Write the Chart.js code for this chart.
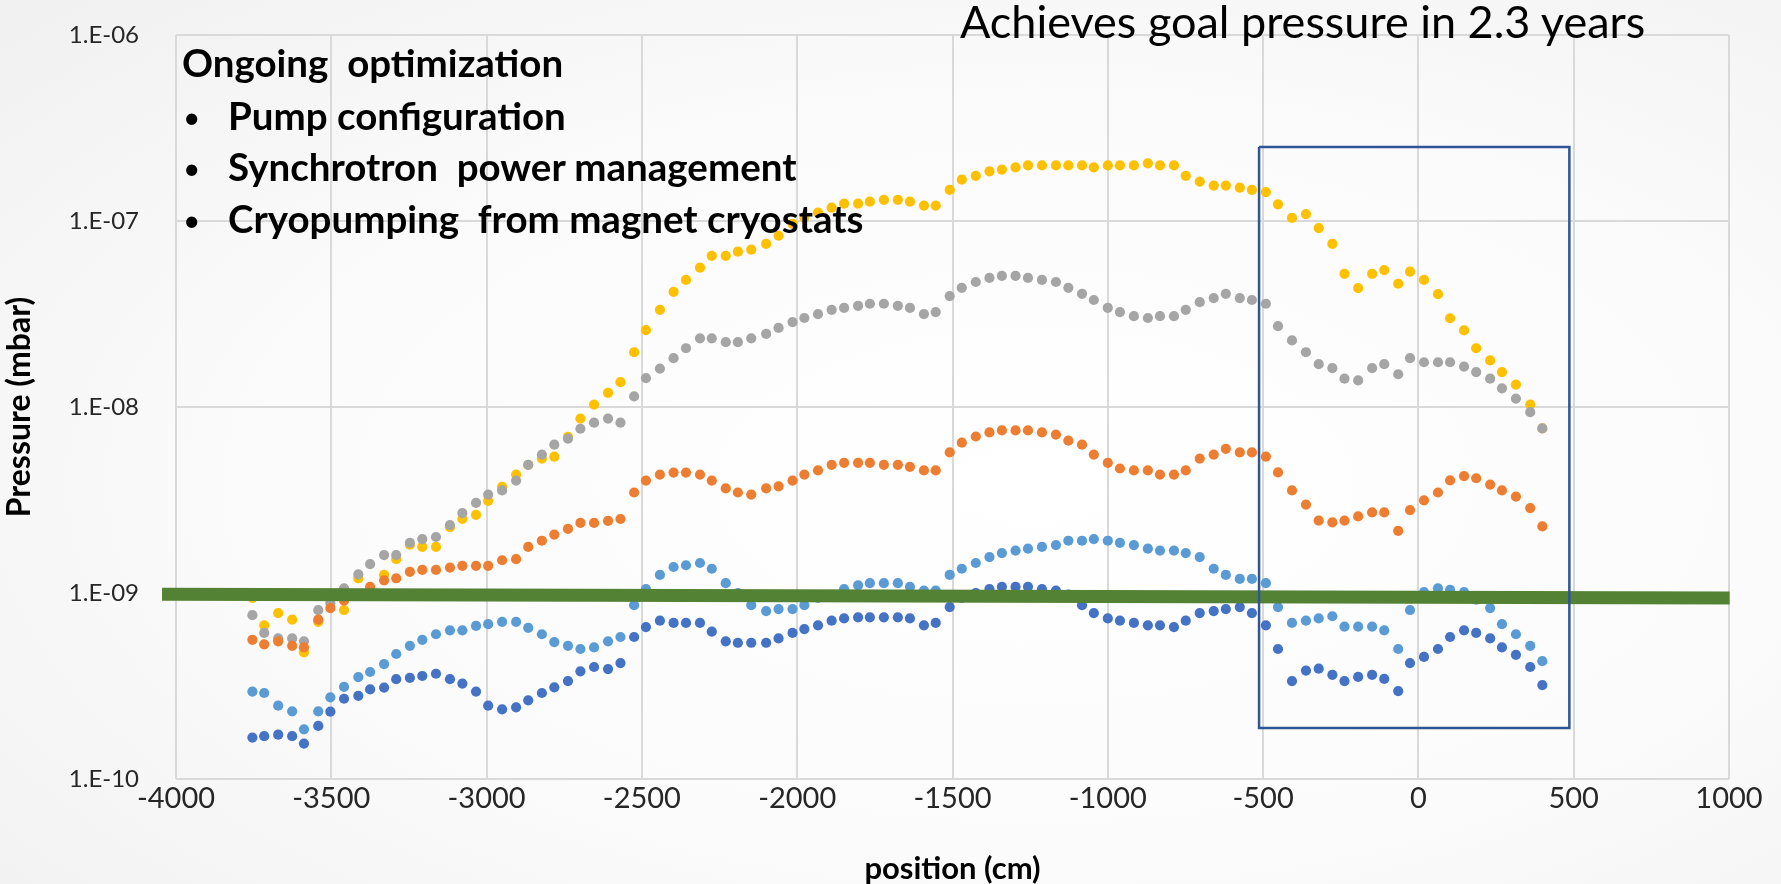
<!DOCTYPE html>
<html>
<head>
<meta charset="utf-8">
<title>Pressure profile</title>
<script src="https://cdn.jsdelivr.net/npm/chart.js@4.4.1/dist/chart.umd.min.js"></script>
<style>
  html, body { margin: 0; padding: 0; }
  body {
    width: 1781px; height: 884px; overflow: hidden;
    background: radial-gradient(ellipse 95% 95% at 58% 55%, #ffffff 0%, #fbfbfb 45%, #ececec 100%);
    font-family: Lato, "Noto Sans", sans-serif;
  }
  #wrap { position: relative; width: 1781px; height: 884px; }
  #c { position: absolute; left: 0; top: 0; }
  .note { position: absolute; white-space: pre; color: #000; line-height: 1.2; }
  .bold { font-weight: 700; font-size: 38.5px; }
  .dot { font-weight: 400; font-size: 30px; }
  .goal { font-weight: 400; font-size: 45px; }
</style>
</head>
<body>
<div id="wrap">
  <canvas id="c" width="1781" height="884"></canvas>
  <div class="note goal" data-x="960" data-base="38">Achieves goal pressure in 2.3 years</div>
  <div class="note bold" data-x="182" data-base="77">Ongoing  optimization</div>
  <div class="note dot" data-x="183" data-base="128">•</div>
  <div class="note bold" data-x="228" data-base="130">Pump configuration</div>
  <div class="note dot" data-x="183" data-base="179">•</div>
  <div class="note bold" data-x="228" data-base="181">Synchrotron  power management</div>
  <div class="note dot" data-x="183" data-base="231">•</div>
  <div class="note bold" data-x="228" data-base="233">Cryopumping  from magnet cryostats</div>
</div>
<script>
// Position along the beam line (cm)
const POSITION_CM = [
  -3754, -3716, -3671, -3626, -3588, -3542, -3503, -3459, -3413, -3375,
  -3330, -3291, -3247, -3207, -3163, -3118, -3078, -3034, -2995, -2950,
  -2905, -2866, -2822, -2782, -2738, -2698, -2654, -2609, -2569, -2525,
  -2487, -2442, -2398, -2358, -2313, -2275, -2230, -2191, -2148, -2100,
  -2060, -2015, -1977, -1933, -1889, -1849, -1804, -1766, -1721, -1676,
  -1637, -1592, -1554, -1509, -1470, -1425, -1381, -1341, -1297, -1257,
  -1212, -1167, -1127, -1083, -1045, -1000, -961, -916, -871, -832,
  -787, -749, -704, -659, -620, -575, -536, -491, -452, -407,
  -362, -321, -277, -238, -194, -149, -110, -65, -27, 18,
  63, 102, 147, 186, 231, 269, 314, 360, 399
];

// Pressure profiles, in units of 1e-9 mbar
const P_YELLOW = [
  0.94, 0.67, 0.78, 0.72, 0.48, 0.70, 0.92, 0.81, 1.20, 1.00,
  1.25, 1.52, 1.82, 1.77, 1.77, 2.26, 2.50, 2.63, 3.13, 3.72,
  4.33, 4.89, 5.28, 5.41, 6.9, 8.67, 10.3, 11.9, 13.6, 19.7,
  25.9, 33.3, 41.6, 48.2, 56.1, 65.0, 65.0, 68.4, 70.1, 75.3,
  83.3, 96.6, 104, 111, 118, 124, 124, 127, 130, 130,
  127, 121, 121, 147, 167, 175, 185, 189, 194, 199,
  199, 199, 199, 199, 194, 199, 199, 199, 204, 199,
  199, 175, 163, 155, 155, 151, 147, 143, 123, 104,
  109, 91.6, 75.3, 52.0, 43.6, 52.0, 54.5, 46.0, 53.4, 48.2,
  40.4, 30.0, 25.8, 20.7, 17.8, 15.4, 13.2, 10.3, 7.67
];
const P_GRAY = [
  0.76, 0.61, 0.57, 0.57, 0.55, 0.81, 0.88, 1.06, 1.26, 1.43,
  1.60, 1.60, 1.86, 1.95, 2.00, 2.32, 2.69, 3.05, 3.38, 3.56,
  4.02, 4.89, 5.55, 6.27, 6.76, 7.64, 8.24, 8.67, 8.24, 11.4,
  14.3, 16.1, 18.3, 20.7, 23.4, 23.4, 22.3, 22.3, 23.4, 24.7,
  26.6, 28.6, 30.1, 31.6, 33.3, 34.1, 35.0, 35.9, 35.9, 35.0,
  34.1, 31.6, 32.4, 39.5, 43.7, 47.0, 49.4, 50.7, 50.7, 49.4,
  48.2, 47.0, 43.7, 40.6, 37.6, 34.1, 32.4, 30.8, 30.1, 30.8,
  30.8, 33.3, 36.6, 38.5, 40.6, 38.5, 37.6, 35.9, 27.2, 22.8,
  19.7, 17.0, 16.2, 14.2, 13.9, 16.2, 17.0, 15.0, 18.3, 17.4,
  17.4, 17.4, 16.5, 15.4, 14.2, 12.6, 11.1, 9.38, 7.67
];
const P_ORANGE = [
  0.56, 0.53, 0.55, 0.52, 0.51, 0.72, 0.83, 0.91, 0.97, 1.08,
  1.17, 1.20, 1.30, 1.33, 1.33, 1.37, 1.40, 1.40, 1.40, 1.50,
  1.52, 1.77, 1.91, 2.06, 2.21, 2.38, 2.38, 2.44, 2.50, 3.47,
  4.02, 4.33, 4.44, 4.44, 4.33, 4.02, 3.65, 3.47, 3.38, 3.65,
  3.74, 4.02, 4.33, 4.56, 4.89, 5.01, 5.01, 5.01, 4.89, 4.89,
  4.77, 4.56, 4.56, 5.70, 6.43, 6.94, 7.30, 7.48, 7.48, 7.48,
  7.30, 7.11, 6.59, 6.27, 5.55, 5.01, 4.67, 4.56, 4.56, 4.33,
  4.33, 4.56, 5.28, 5.55, 5.96, 5.70, 5.70, 5.41, 4.45, 3.56,
  2.99, 2.45, 2.40, 2.45, 2.58, 2.71, 2.71, 2.16, 2.79, 3.15,
  3.47, 4.03, 4.25, 4.14, 3.83, 3.56, 3.30, 2.86, 2.28
];
const P_LIGHTBLUE = [
  0.295, 0.29, 0.248, 0.231, 0.185, 0.231, 0.275, 0.313, 0.353, 0.376,
  0.415, 0.47, 0.52, 0.56, 0.60, 0.63, 0.63, 0.665, 0.68, 0.70,
  0.70, 0.65, 0.60, 0.545, 0.52, 0.50, 0.51, 0.55, 0.58, 0.86,
  1.05, 1.25, 1.38, 1.41, 1.45, 1.35, 1.13, 1.00, 0.86, 0.80,
  0.82, 0.82, 0.86, 0.94, 0.97, 1.05, 1.10, 1.13, 1.13, 1.13,
  1.08, 1.03, 1.03, 1.25, 1.35, 1.45, 1.56, 1.64, 1.69, 1.73,
  1.77, 1.81, 1.91, 1.91, 1.95, 1.91, 1.86, 1.81, 1.73, 1.69,
  1.69, 1.64, 1.56, 1.35, 1.25, 1.19, 1.19, 1.13, 0.84, 0.69,
  0.71, 0.73, 0.75, 0.66, 0.66, 0.66, 0.63, 0.50, 0.81, 1.01,
  1.06, 1.04, 1.01, 0.92, 0.83, 0.68, 0.60, 0.52, 0.43
];
const P_DARKBLUE = [
  0.167, 0.17, 0.173, 0.17, 0.155, 0.193, 0.23, 0.27, 0.28, 0.303,
  0.31, 0.344, 0.35, 0.358, 0.368, 0.344, 0.326, 0.295, 0.248, 0.237,
  0.243, 0.265, 0.29, 0.311, 0.336, 0.379, 0.40, 0.39, 0.42, 0.58,
  0.656, 0.71, 0.69, 0.69, 0.69, 0.62, 0.55, 0.54, 0.54, 0.54,
  0.57, 0.61, 0.64, 0.67, 0.71, 0.73, 0.74, 0.74, 0.74, 0.74,
  0.73, 0.67, 0.69, 0.84, 0.94, 1.00, 1.05, 1.08, 1.08, 1.08,
  1.05, 1.03, 0.98, 0.86, 0.78, 0.73, 0.71, 0.69, 0.67, 0.67,
  0.656, 0.71, 0.78, 0.80, 0.82, 0.84, 0.78, 0.67, 0.50, 0.336,
  0.383, 0.392, 0.363, 0.336, 0.354, 0.363, 0.345, 0.297, 0.42, 0.453,
  0.50, 0.58, 0.63, 0.61, 0.57, 0.51, 0.465, 0.40, 0.32
];

// Goal-pressure band (ends of the line) and the highlighted region (mbar)
const GOAL_X = [-4045, 1002];
const GOAL_P = [0.985e-9, 0.94e-9];
const REGION_X = [-513, 486];
const REGION_P = [1.88e-10, 2.5e-7];

// Axis ticks
const X_TICKS = [-4000, -3500, -3000, -2500, -2000, -1500, -1000, -500, 0, 500, 1000];
const Y_TICKS = [1e-10, 1e-9, 1e-8, 1e-7, 1e-6];
const Y_TICK_LABELS = ['1.E-10', '1.E-09', '1.E-08', '1.E-07', '1.E-06'];

const NANO = 1e-9;
const series = (vals) => POSITION_CM.map((x, i) => ({ x: x, y: vals[i] * NANO }));

const dots = (label, vals, color, order) => ({
  label: label,
  data: series(vals),
  backgroundColor: color,
  borderWidth: 0,
  pointRadius: 5.1,
  pointHoverRadius: 5.1,
  showLine: false,
  order: order
});

const goalLine = {
  label: 'goal',
  data: GOAL_X.map((x, i) => ({ x: x, y: GOAL_P[i] })),
  showLine: true,
  borderColor: '#548235',
  borderWidth: 13,
  borderCapStyle: 'butt',
  pointRadius: 0,
  fill: false,
  clip: false,
  order: 1
};

const regionBox = {
  label: 'region',
  data: [
    { x: REGION_X[0], y: REGION_P[1] },
    { x: REGION_X[1], y: REGION_P[1] },
    { x: REGION_X[1], y: REGION_P[0] },
    { x: REGION_X[0], y: REGION_P[0] },
    { x: REGION_X[0], y: REGION_P[1] }
  ],
  showLine: true,
  borderColor: '#2F5597',
  borderWidth: 2.5,
  borderJoinStyle: 'miter',
  pointRadius: 0,
  fill: false,
  order: 0
};

new Chart(document.getElementById('c'), {
  type: 'scatter',
  data: {
    datasets: [
      regionBox,
      goalLine,
      dots('dark blue', P_DARKBLUE, '#4472C4', 2),
      dots('light blue', P_LIGHTBLUE, '#5B9BD5', 3),
      dots('orange', P_ORANGE, '#ED7D31', 4),
      dots('gray', P_GRAY, '#A5A5A5', 5),
      dots('yellow', P_YELLOW, '#FFC000', 6)
    ]
  },
  options: {
    responsive: false,
    animation: false,
    devicePixelRatio: 1,
    layout: { padding: { top: 35, right: 52, bottom: 0, left: 0 } },
    plugins: { legend: { display: false }, tooltip: { enabled: false } },
    scales: {
      x: {
        type: 'linear',
        min: -4000,
        max: 1000,
        afterBuildTicks: (s) => { s.ticks = X_TICKS.map(v => ({ value: v })); },
        afterFit: (s) => { s.height = 105; },
        ticks: {
          autoSkip: false,
          maxRotation: 0,
          padding: 2,
          color: '#262626',
          font: { family: 'Lato', size: 29 },
          callback: (v) => String(v)
        },
        grid: { color: '#d9d9d9', lineWidth: 2, drawTicks: false },
        border: { display: false },
        title: {
          display: true,
          text: 'position (cm)',
          color: '#000000',
          font: { family: 'Lato', size: 31, weight: 'bold', lineHeight: 1 },
          padding: { top: 0, bottom: 0 }
        }
      },
      y: {
        type: 'logarithmic',
        min: 1e-10,
        max: 1e-6,
        afterBuildTicks: (s) => { s.ticks = Y_TICKS.map(v => ({ value: v })); },
        afterFit: (s) => { s.width = 176; },
        ticks: {
          autoSkip: false,
          padding: 0,
          color: '#262626',
          font: { family: 'Lato', size: 24, lineHeight: 1 },
          callback: (v) => {
            const i = Y_TICKS.findIndex(t => Math.abs(Math.log10(t) - Math.log10(v)) < 1e-6);
            return i >= 0 ? Y_TICK_LABELS[i] : '';
          }
        },
        // invisible tick marks keep the labels clear of the plot edge
        grid: { color: '#d9d9d9', lineWidth: 2, drawTicks: true, tickLength: 37, tickColor: 'rgba(0,0,0,0)' },
        border: { display: false },
        title: {
          display: true,
          text: 'Pressure (mbar)',
          color: '#000000',
          font: { family: 'Lato', size: 32, weight: 'bold', lineHeight: 1 },
          padding: { top: 4, bottom: 0 }
        }
      }
    }
  }
});

// Put each note's text baseline at its data-base y coordinate
function placeNotes() {
  document.querySelectorAll('.note').forEach(el => {
    const mark = document.createElement('span');
    mark.style.cssText = 'display:inline-block;width:0;height:0;vertical-align:baseline;';
    el.appendChild(mark);
    el.style.left = el.dataset.x + 'px';
    el.style.top = '0px';
    const off = mark.offsetTop;
    el.style.top = (Number(el.dataset.base) - off) + 'px';
  });
}
if (document.fonts && document.fonts.ready) {
  document.fonts.ready.then(placeNotes);
} else {
  placeNotes();
}
</script>
</body>
</html>
